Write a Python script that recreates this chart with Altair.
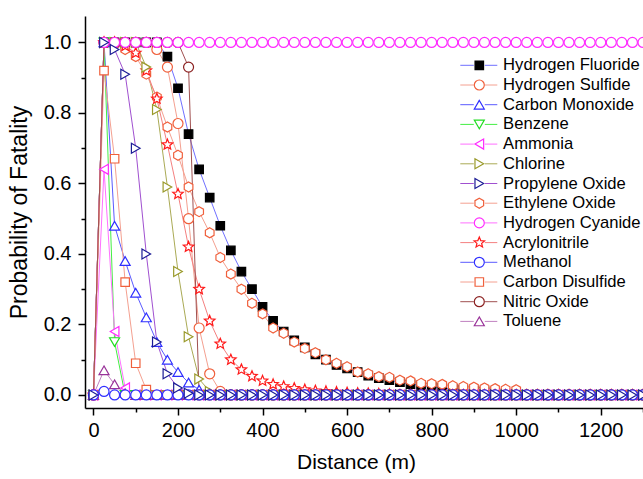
import altair as alt
import pandas as pd

FONT = "Liberation Sans"

# Downwind distance of each sample (m)
distance = list(range(0, 1301, 25))


def padded(head, tail=0.0):
    """Complete a series with the value it keeps for the rest of the range."""
    return head + [tail] * (len(distance) - len(head))


hydrogen_fluoride = padded([0.0, 1.0, 1.0, 1.0, 1.0, 1.0, 1.0, 0.96, 0.87, 0.74, 0.64, 0.56, 0.48,
                            0.41, 0.35, 0.30, 0.25, 0.21, 0.18, 0.155, 0.135, 0.115, 0.10, 0.085,
                            0.075, 0.065, 0.055, 0.048, 0.042, 0.036, 0.031, 0.027, 0.023, 0.02,
                            0.017, 0.015, 0.013, 0.011])
hydrogen_sulfide = padded([0.0, 1.0, 1.0, 1.0, 1.0, 1.0, 0.98, 0.93, 0.77, 0.50, 0.19, 0.06, 0.01])
carbon_monoxide = padded([0.0, 1.0, 0.48, 0.38, 0.29, 0.22, 0.15, 0.10, 0.065, 0.035, 0.015, 0.005])
benzene = padded([0.0, 1.0, 0.15])
ammonia = padded([0.0, 0.64, 0.18, 0.02])
chlorine = padded([0.0, 1.0, 1.0, 1.0, 1.0, 0.93, 0.81, 0.59, 0.35, 0.165, 0.045, 0.01])
propylene_oxide = padded([0.0, 1.0, 0.98, 0.91, 0.70, 0.40, 0.15, 0.06, 0.02, 0.005])
ethylene_oxide = padded([0.0, 1.0, 1.0, 0.98, 0.96, 0.91, 0.845, 0.76, 0.68, 0.59, 0.52, 0.46,
                         0.39, 0.343, 0.30, 0.26, 0.23, 0.19, 0.175, 0.15, 0.132, 0.12, 0.10, 0.09,
                         0.08, 0.065, 0.06, 0.052, 0.05, 0.042, 0.04, 0.033, 0.032, 0.03, 0.026,
                         0.024, 0.022, 0.02, 0.018, 0.016, 0.015])
hydrogen_cyanide = padded([0.0], 1.0)
acrylonitrile = padded([0.0, 1.0, 1.0, 0.99, 0.97, 0.92, 0.84, 0.71, 0.57, 0.42, 0.30, 0.21, 0.145,
                        0.10, 0.072, 0.053, 0.04, 0.03, 0.024, 0.019, 0.015, 0.012, 0.01, 0.008,
                        0.006, 0.005, 0.004, 0.003, 0.002])
methanol = padded([0.0, 0.01])
carbon_disulfide = padded([0.0, 0.92, 0.67, 0.32, 0.09, 0.015])
nitric_oxide = padded([0.0, 1.0, 1.0, 1.0, 1.0, 1.0, 1.0, 1.0, 1.0, 0.93])
toluene = padded([0.0, 0.07, 0.03, 0.005])

names = ["Hydrogen Fluoride", "Hydrogen Sulfide", "Carbon Monoxide", "Benzene", "Ammonia",
         "Chlorine", "Propylene Oxide", "Ethylene Oxide", "Hydrogen Cyanide", "Acrylonitrile",
         "Methanol", "Carbon Disulfide", "Nitric Oxide", "Toluene"]
values = [hydrogen_fluoride, hydrogen_sulfide, carbon_monoxide, benzene, ammonia, chlorine,
          propylene_oxide, ethylene_oxide, hydrogen_cyanide, acrylonitrile, methanol,
          carbon_disulfide, nitric_oxide, toluene]

marker_colors = ["#000000", "#f0603c", "#2f2fff", "#22dd22", "#ff2bff", "#9a9a2a", "#1c1c96",
                 "#f0603c", "#ff2bff", "#ff1a1a", "#2f2fff", "#f0603c", "#8b2020", "#993399"]
line_colors = ["#7070ff", "#f4a090", "#5a5aff", "#44ee44", "#ff70ff", "#aaaa55", "#a050d0",
               "#f4a090", "#ff70ff", "#f48080", "#5a5aff", "#f4a090", "#a05050", "#c080c0"]

SQUARE = "M-0.85,-0.85H0.85V0.85H-0.85Z"
HEXAGON = "M0,-1L0.866,-0.5L0.866,0.5L0,1L-0.866,0.5L-0.866,-0.5Z"
STAR = ("M0,-1.1L0.29,-0.4L1.05,-0.34L0.47,0.15L0.65,0.89L0,0.5L-0.65,0.89"
        "L-0.47,0.15L-1.05,-0.34L-0.29,-0.4Z")
LEGEND_LINE = "M-3.8,0H-1.1M1.1,0H3.6"

marker_shapes = [SQUARE, "circle", "triangle-up", "triangle-down", "triangle-left",
                 "triangle-right", "triangle-right", HEXAGON, "circle", STAR, "circle", SQUARE,
                 "circle", "triangle-up"]
marker_fills = ["#000000"] + ["#ffffff"] * 13

# stacking of the symbols, bottom first
draw_order = ["Hydrogen Fluoride", "Hydrogen Sulfide", "Ethylene Oxide", "Acrylonitrile",
              "Carbon Monoxide", "Benzene", "Ammonia", "Chlorine", "Carbon Disulfide",
              "Nitric Oxide", "Toluene", "Hydrogen Cyanide", "Methanol", "Propylene Oxide"]

rows = []
for name, series in zip(names, values):
    for d, p in zip(distance, series):
        rows.append({"series": name, "line_series": name, "distance": d,
                     "probability": p, "z": draw_order.index(name)})
df = pd.DataFrame(rows)

axis_style = dict(grid=False, domainColor="black", domainWidth=1.5, tickColor="black",
                  tickWidth=1.5, labelFont=FONT, labelFontSize=20, labelColor="black",
                  titleFont=FONT, titleFontWeight="normal",
                  titleColor="black", labelOverlap=False, labelFlush=False)

x_enc = alt.X(
    "distance:Q",
    scale=alt.Scale(domain=[-20, 1300], nice=False, zero=False),
    axis=alt.Axis(
        values=[0, 100, 200, 300, 400, 500, 600, 700, 800, 900, 1000, 1100, 1200, 1300],
        format="d",
        labelExpr="datum.value % 200 === 0 ? datum.label : ''",
        tickSize={"condition": {"test": "datum.value % 200 === 0", "value": 7}, "value": 4},
        labelPadding=5,
        title="Distance (m)",
        titleFontSize=21,
        titleX=271,
        titlePadding=11,
        **axis_style,
    ),
)
y_enc = alt.Y(
    "probability:Q",
    scale=alt.Scale(domain=[-0.037, 1.075], nice=False, zero=False),
    axis=alt.Axis(
        values=[0.0, 0.1, 0.2, 0.3, 0.4, 0.5, 0.6, 0.7, 0.8, 0.9, 1.0],
        labelExpr="round(datum.value * 10) % 2 === 0 ? format(datum.value, '.1f') : ''",
        tickSize={"condition": {"test": "round(datum.value * 10) % 2 === 0", "value": 7},
                  "value": 4},
        labelPadding=7,
        title="Probability of  Fatality",
        titleFontSize=23,
        titlePadding=12,
        **axis_style,
    ),
)

legend_common = dict(orient="none", legendX=386, legendY=41, title=None, padding=0,
                     labelFont=FONT, labelFontSize=16.6, labelColor="black", labelLimit=0,
                     rowPadding=2.7, symbolSize=100, labelOffset=15.5)
marker_legend = alt.Legend(symbolStrokeWidth=1.2, symbolFillColor="white", symbolOpacity=1,
                           **legend_common)
line_legend = alt.Legend(symbolType=LEGEND_LINE, symbolStrokeWidth=1, labelOpacity=0,
                         **legend_common)

lines = alt.Chart(df).mark_line(strokeWidth=1).encode(
    x=x_enc,
    y=y_enc,
    stroke=alt.Stroke("line_series:N", sort=names,
                      scale=alt.Scale(range=line_colors), legend=line_legend),
)

points = alt.Chart(df).mark_point(filled=False, size=100, strokeWidth=1.2, opacity=1).encode(
    x=x_enc,
    y=y_enc,
    color=alt.Color("series:N", scale=alt.Scale(domain=names, range=marker_colors),
                    legend=marker_legend),
    fill=alt.Fill("series:N", scale=alt.Scale(domain=names, range=marker_fills),
                  legend=marker_legend),
    shape=alt.Shape("series:N", scale=alt.Scale(domain=names, range=marker_shapes),
                    legend=marker_legend),
    order=alt.Order("z:Q"),
)

chart = (
    alt.layer(lines, points)
    .properties(width=558, height=392, background="white",
                padding={"left": 85, "top": 16, "right": 0, "bottom": 71},
                autosize=alt.AutoSizeParams(type="none"))
    .configure_view(stroke=None)
)

chart.save("out.html", embed_options={"renderer": "svg", "actions": False})
